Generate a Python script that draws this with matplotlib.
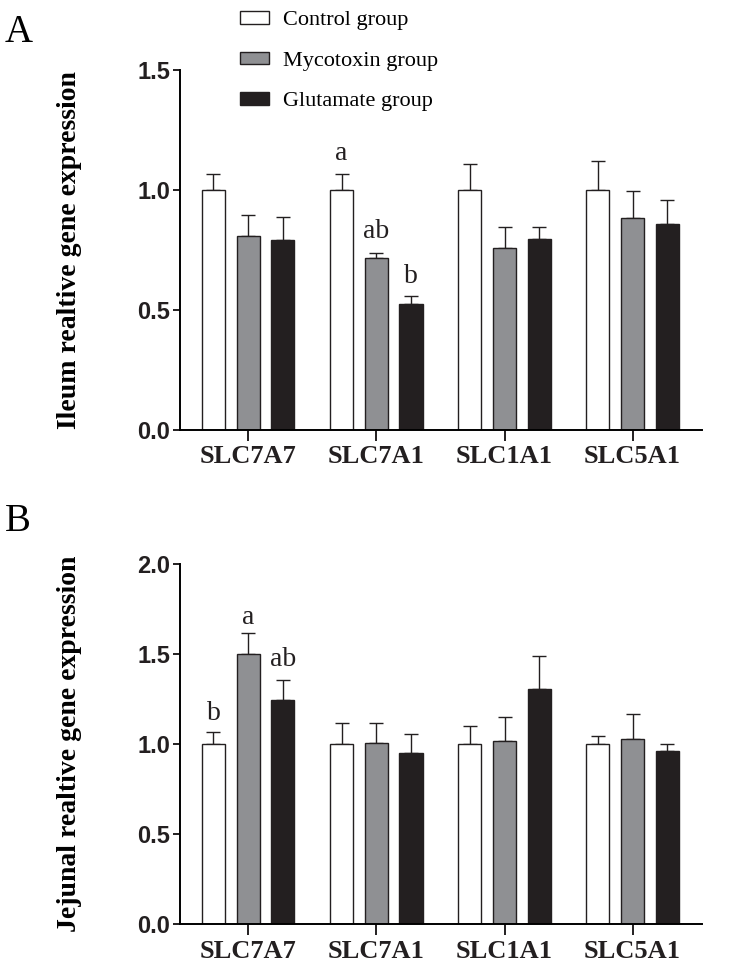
import numpy as np
import matplotlib
matplotlib.use("Agg")
import matplotlib.pyplot as plt
from matplotlib.patches import Patch

# -----------------------------
# data
# -----------------------------
genes = ["SLC7A7", "SLC7A1", "SLC1A1", "SLC5A1"]
groups = ["Control group", "Mycotoxin group", "Glutamate group"]

# panel A - ileum
ileum_ctrl = [1.00, 1.00, 1.00, 1.00]
ileum_myco = [0.81, 0.715, 0.758, 0.884]
ileum_glu = [0.79, 0.527, 0.798, 0.859]
ileum_ctrl_err = [0.068, 0.068, 0.107, 0.123]
ileum_myco_err = [0.086, 0.024, 0.088, 0.113]
ileum_glu_err = [0.098, 0.030, 0.048, 0.101]

# panel B - jejunum
jej_ctrl = [1.00, 1.00, 1.00, 1.00]
jej_myco = [1.50, 1.009, 1.018, 1.028]
jej_glu = [1.245, 0.950, 1.305, 0.960]
jej_ctrl_err = [0.068, 0.118, 0.101, 0.044]
jej_myco_err = [0.117, 0.109, 0.135, 0.140]
jej_glu_err = [0.109, 0.109, 0.182, 0.040]

# significance letters: (gene index, group index, text, baseline y)
ileum_letters = [(1, 0, "a", 1.127), (1, 1, "ab", 0.80), (1, 2, "b", 0.613)]
jej_letters = [(0, 0, "b", 1.137), (0, 1, "a", 1.669), (0, 2, "ab", 1.432)]

colors = ["white", "#8f9093", "#231f20"]
edge = "#231f20"
serif = "Liberation Serif"
sans = "Liberation Sans"

fig = plt.figure(figsize=(7.33, 9.65), dpi=100)


def draw_panel(ax, series, errs, letters, ymax, ylabel):
    x = np.arange(len(genes))
    offsets = [-0.272, 0.0, 0.27]
    w = 0.18
    for vals, err, col, off in zip(series, errs, colors, offsets):
        ax.bar(x + off, vals, width=w, color=col, edgecolor=edge,
               linewidth=1.0, zorder=2)
        ax.errorbar(x + off, vals, yerr=[np.zeros(len(err)), err], fmt="none",
                    ecolor=edge, elinewidth=1.0, capsize=4.8, capthick=1.0,
                    zorder=1)
    for gi, si, txt, yy in letters:
        ax.text(x[gi] + offsets[si], yy, txt, ha="center", va="baseline",
                fontsize=20, fontfamily=serif, color="#231f20")

    ax.set_xlim(-0.533, 3.541)
    ax.set_ylim(0, ymax)
    ticks = np.arange(0, ymax + 0.01, 0.5)
    ax.set_yticks(ticks)
    ax.set_yticklabels([f"{v:.1f}" for v in ticks],
                       fontsize=17, fontweight="bold", fontfamily=sans)
    ax.set_xticks(x)
    ax.set_xticklabels(genes, fontsize=19, fontweight="bold", fontfamily=serif)
    ax.spines["top"].set_visible(False)
    ax.spines["right"].set_visible(False)
    ax.spines["left"].set_linewidth(1.4)
    ax.spines["bottom"].set_linewidth(1.4)
    ax.tick_params(axis="y", length=5, width=1.4, pad=2, colors="#231f20")
    ax.tick_params(axis="x", length=8, width=1.4, pad=3, colors="#231f20")
    ax.set_ylabel(ylabel, fontsize=20, fontweight="bold", fontfamily=serif,
                  labelpad=40)


axA = fig.add_axes([0.2456, 0.5544, 0.712, 0.373])
draw_panel(axA, [ileum_ctrl, ileum_myco, ileum_glu],
           [ileum_ctrl_err, ileum_myco_err, ileum_glu_err],
           ileum_letters, 1.5, "Ileum realtive gene expression")

axB = fig.add_axes([0.2456, 0.042, 0.712, 0.3736])
draw_panel(axB, [jej_ctrl, jej_myco, jej_glu],
           [jej_ctrl_err, jej_myco_err, jej_glu_err],
           jej_letters, 2.0, "Jejunal realtive gene expression")

fig.text(0.006, 0.966, "A", fontsize=28, fontfamily=serif, va="center")
fig.text(0.006, 0.46, "B", fontsize=28, fontfamily=serif, va="center")

handles = [Patch(facecolor=c, edgecolor=edge, linewidth=1.0) for c in colors]
fig.legend(handles, groups, loc="upper left", bbox_to_anchor=(0.322, 0.993),
           frameon=False, borderpad=0.2, borderaxespad=0,
           prop={"family": serif, "size": 16}, handlelength=1.3,
           handleheight=0.5, handletextpad=0.6, labelspacing=0.95)

fig.savefig("out.png", dpi=100)
